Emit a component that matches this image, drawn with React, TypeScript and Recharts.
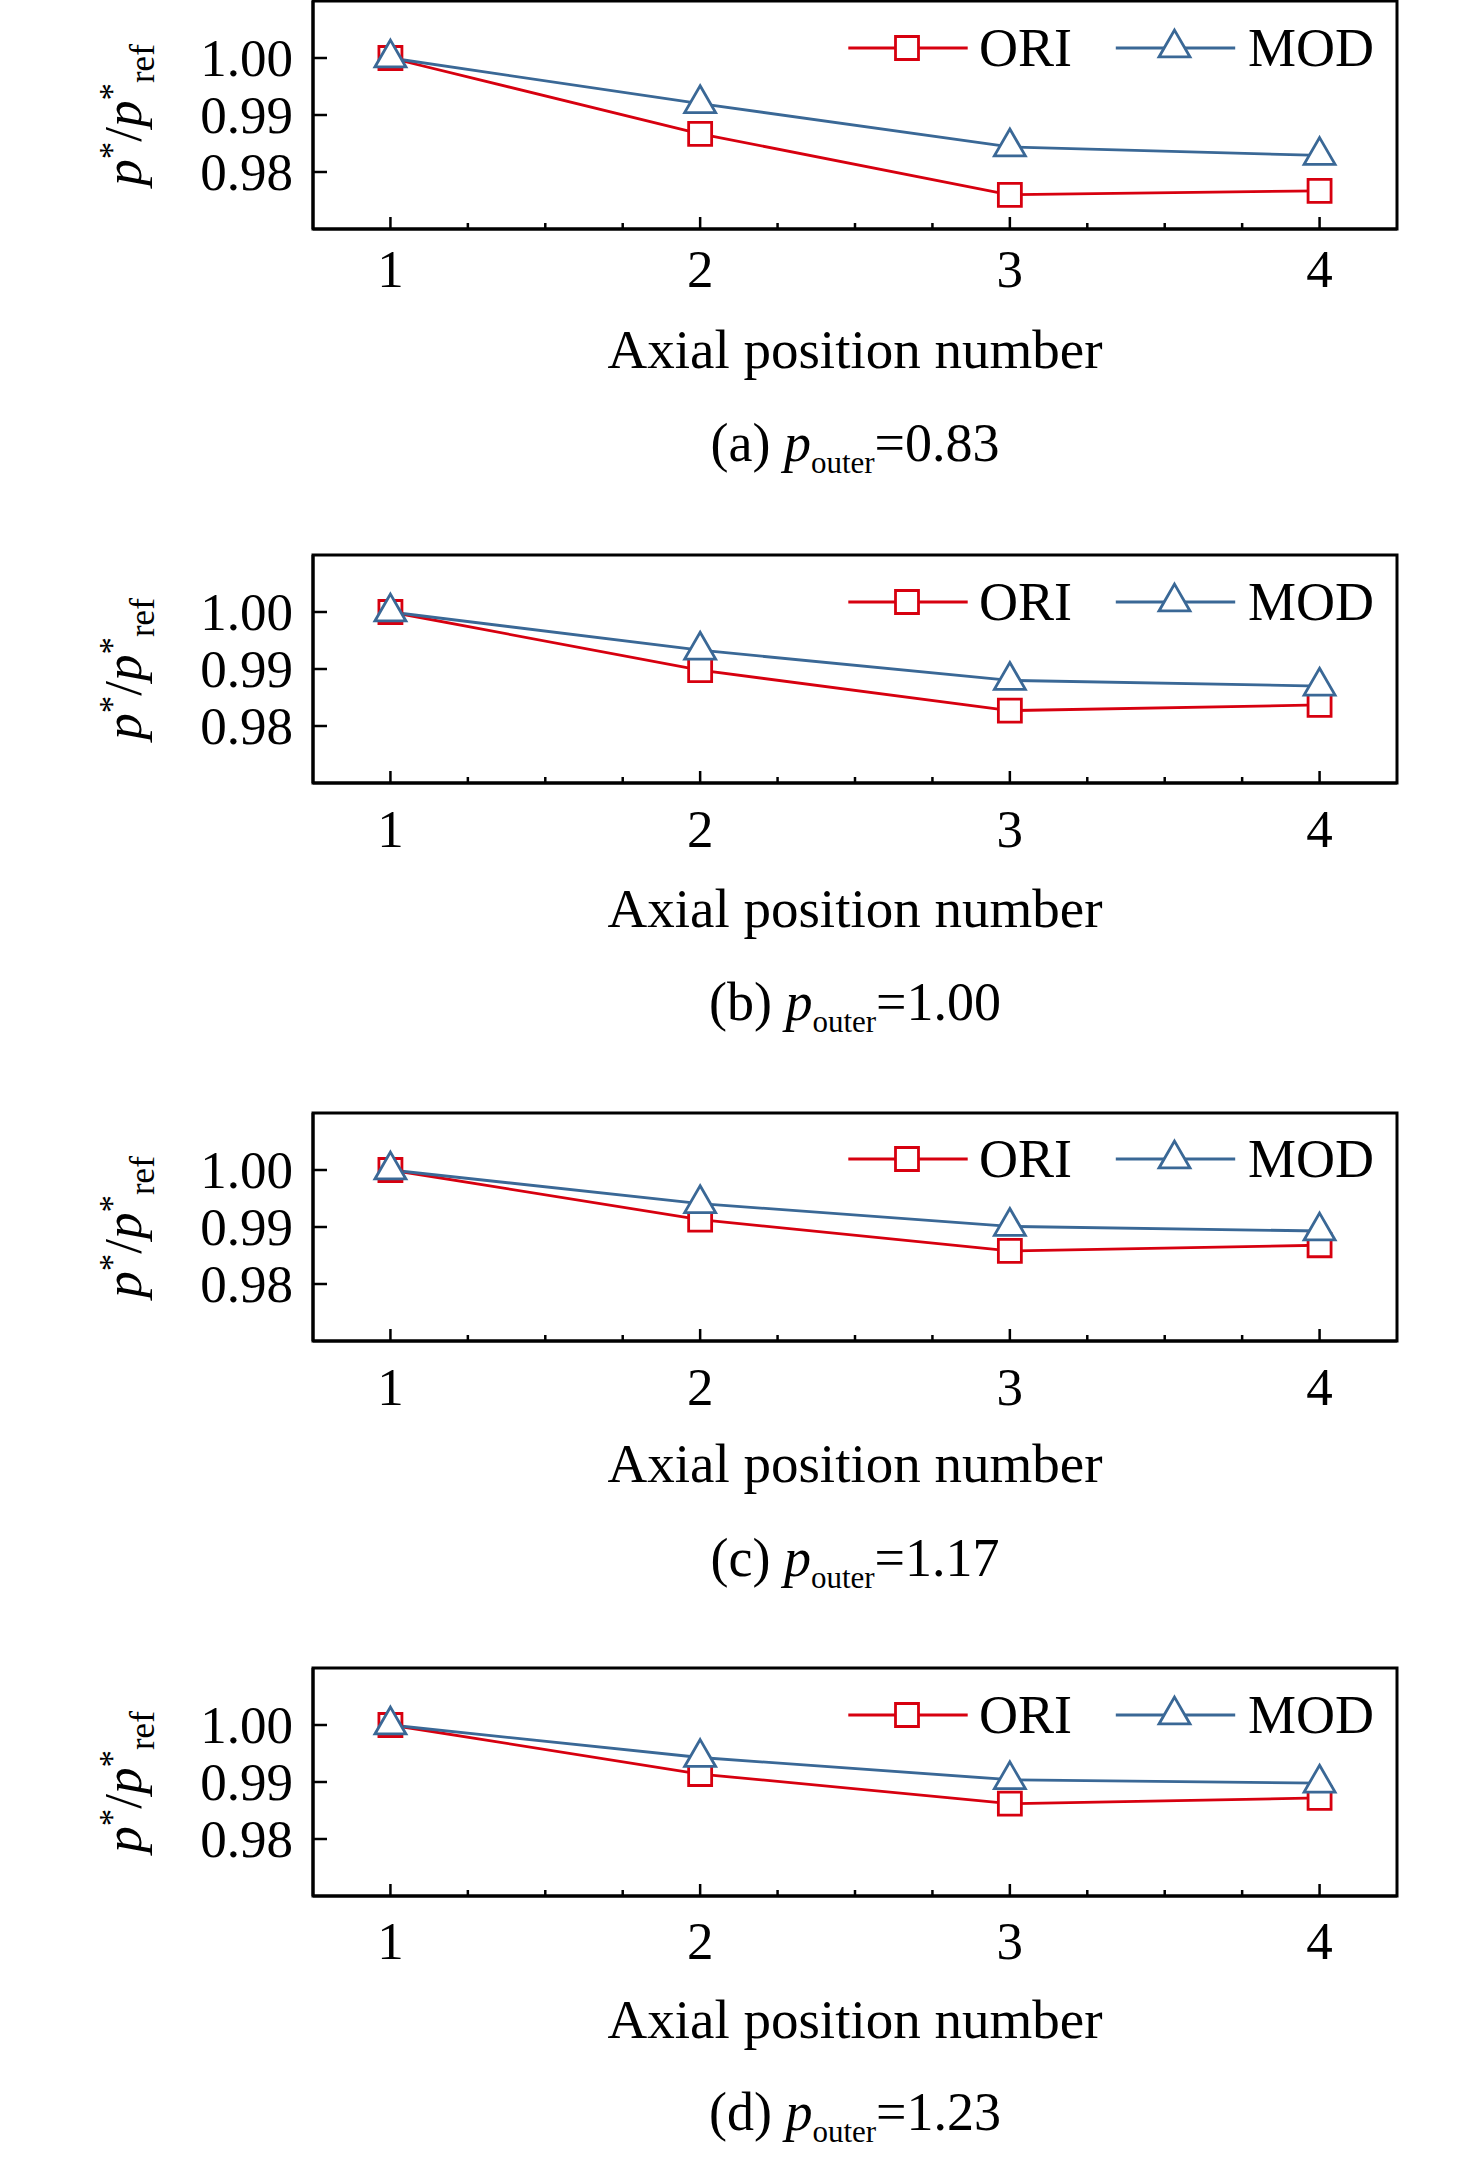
import React from 'react';
import { LineChart, Line, XAxis, YAxis, Legend, Symbols, ReferenceArea } from 'recharts';

// ---------- data ----------
const positions = [1, 2, 3, 4];
const xMajorTicks = [1, 2, 3, 4];
const xMinorTicks = [1.25, 1.5, 1.75, 2.25, 2.5, 2.75, 3.25, 3.5, 3.75];
const yTicks = [0.98, 0.99, 1.0];
const xDomain: [number, number] = [0.75, 4.25];
const yDomain: [number, number] = [0.97, 1.01];

const seriesNames = ['ORI', 'MOD'];

const oriA = [1.0, 0.9867, 0.976, 0.9767];
const modA = [1.0, 0.992, 0.9844, 0.9829];
const oriB = [1.0, 0.9898, 0.9827, 0.9837];
const modB = [1.0, 0.9933, 0.988, 0.987];
const oriC = [1.0, 0.9913, 0.9858, 0.9868];
const modC = [1.0, 0.9941, 0.9901, 0.9893];
const oriD = [1.0, 0.9914, 0.9862, 0.9872];
const modD = [1.0, 0.9943, 0.9904, 0.9898];

const panelLetters = ['(a)', '(b)', '(c)', '(d)'];
const outerValues = ['0.83', '1.00', '1.17', '1.23'];
const xTitle = 'Axial position number';

// ---------- styles / layout ----------
const FONT = "'Liberation Serif', 'Times New Roman', serif";
const RED = '#d7000f';
const BLUE = '#3a6896';
const W = 1476;
const H = 555;
const PLOT_H = 228;
const M_TOP = 4;
const Y_AXIS_W = 100;
const X_AXIS_H = 60;
const M_LEFT = 213;
const M_RIGHT = 79;
const M_BOTTOM = H - M_TOP - PLOT_H - X_AXIS_H;

const panelTops = [1, 555.3, 1112.7, 1668.3];
const tickOffsets = [58, 64, 64, 63];
const titleOffsets = [139, 143.5, 141, 141.6];
const captionOffsets = [232, 237, 234.7, 234];

const panels = [
  { ori: oriA, mod: modA },
  { ori: oriB, mod: modB },
  { ori: oriC, mod: modC },
  { ori: oriD, mod: modD },
];

const buildRows = (ori: number[], mod: number[]) =>
  positions.map((x, i) => ({ x, ori: ori[i], mod: mod[i] }));

const allXTicks = [...xMajorTicks, ...xMinorTicks].sort((a, b) => a - b);

const XTick = (props: any) => {
  const { x, y, payload, off } = props;
  const v = payload.value;
  const major = xMajorTicks.includes(v);
  return (
    <g>
      <line x1={x} y1={y} x2={x} y2={y - (major ? 12 : 6)} stroke="#000" strokeWidth={2.5} />
      {major && (
        <text x={x} y={y + off} textAnchor="middle" fontSize={53} fontFamily={FONT} fill="#000">
          {String(v)}
        </text>
      )}
    </g>
  );
};

const YTick = (props: any) => {
  const { x, y, payload } = props;
  return (
    <g>
      <line x1={x} y1={y} x2={x + 14} y2={y} stroke="#000" strokeWidth={2.5} />
      <text x={x - 20} y={y} dy="0.34em" textAnchor="end" fontSize={53} fontFamily={FONT} fill="#000">
        {Number(payload.value).toFixed(2)}
      </text>
    </g>
  );
};

const YLabel = (props: any) => {
  const vb = props.viewBox || {};
  const cx = vb.x + vb.width - 172;
  const cy = vb.y + vb.height / 2;
  return (
    <text
      x={cx}
      y={cy}
      transform={`rotate(-90 ${cx} ${cy})`}
      textAnchor="middle"
      fontFamily={FONT}
      fontSize={53}
      fill="#000"
    >
      <tspan fontStyle="italic">p</tspan>
      <tspan fontSize={35} dy={-17}>*</tspan>
      <tspan dy={17}>/</tspan>
      <tspan fontStyle="italic">p</tspan>
      <tspan fontSize={35} dy={-17}>*</tspan>
      <tspan fontSize={35} dy={30}>ref</tspan>
    </text>
  );
};

const XLabels = (props: any) => {
  const vb = props.viewBox || {};
  const idx = props.idx;
  const cx = vb.x + vb.width / 2;
  return (
    <g>
      <text x={cx} y={vb.y + titleOffsets[idx]} textAnchor="middle" fontFamily={FONT} fontSize={55} fill="#000">
        {xTitle}
      </text>
      <text x={cx} y={vb.y + captionOffsets[idx]} textAnchor="middle" fontFamily={FONT} fontSize={54} fill="#000">
        <tspan>{panelLetters[idx] + ' '}</tspan>
        <tspan fontStyle="italic">p</tspan>
        <tspan fontSize={31} dy={12}>outer</tspan>
        <tspan dy={-12}>{'=' + outerValues[idx]}</tspan>
      </text>
    </g>
  );
};

const SquareDot = (props: any) => {
  const { cx, cy, index } = props;
  if (cx == null || cy == null) return <g key={`sq-${index}`} />;
  return (
    <Symbols key={`sq-${index}`} cx={cx} cy={cy} type="square" size={529} fill="#fff" stroke={RED} strokeWidth={2.8} />
  );
};

const TriDot = (props: any) => {
  const { cx, cy, index } = props;
  if (cx == null || cy == null) return <g key={`tr-${index}`} />;
  return (
    <Symbols key={`tr-${index}`} cx={cx} cy={cy} type="triangle" size={416} fill="#fff" stroke={BLUE} strokeWidth={2.8} />
  );
};

const LegendContent = (props: any) => {
  const payload = [...(props.payload || [])].sort(
    (a: any, b: any) => seriesNames.indexOf(a.value) - seriesNames.indexOf(b.value)
  );
  return (
    <svg width={560} height={70} style={{ display: 'block', overflow: 'visible' }}>
      {payload.map((entry: any, i: number) => {
        const base = i * 267.5;
        const color = entry.color;
        const cy = 35;
        return (
          <g key={`lg-${i}`}>
            <line x1={base + 8.3} y1={cy} x2={base + 127.7} y2={cy} stroke={color} strokeWidth={2.8} />
            <Symbols
              cx={base + 67}
              cy={cy}
              type={i === 0 ? 'square' : 'triangle'}
              size={i === 0 ? 529 : 416}
              fill="#fff"
              stroke={color}
              strokeWidth={2.8}
            />
            <text x={base + (i === 0 ? 139 : 140.5)} y={cy} dy="0.34em" fontFamily={FONT} fontSize={54} fill="#000">
              {entry.value}
            </text>
          </g>
        );
      })}
    </svg>
  );
};

const Panel = ({ idx }: { idx: number }) => {
  const rows = buildRows(panels[idx].ori, panels[idx].mod);
  return (
    <div style={{ position: 'absolute', left: 0, top: panelTops[idx] - M_TOP, width: W, height: H }}>
      <LineChart
        width={W}
        height={H}
        data={rows}
        margin={{ top: M_TOP, right: M_RIGHT, left: M_LEFT, bottom: M_BOTTOM }}
      >
        <XAxis
          dataKey="x"
          type="number"
          domain={xDomain}
          ticks={allXTicks}
          interval={0}
          tickSize={0}
          tickMargin={0}
          tickLine={false}
          height={X_AXIS_H}
          axisLine={{ stroke: '#000', strokeWidth: 3 }}
          tick={(p: any) => <XTick {...p} off={tickOffsets[idx]} />}
          label={{ content: (p: any) => <XLabels {...p} idx={idx} /> }}
        />
        <YAxis
          type="number"
          domain={yDomain}
          ticks={yTicks}
          interval={0}
          width={Y_AXIS_W}
          tickSize={0}
          tickMargin={0}
          tickLine={false}
          axisLine={{ stroke: '#000', strokeWidth: 3 }}
          tick={(p: any) => <YTick {...p} />}
          label={{ content: (p: any) => <YLabel {...p} /> }}
        />
        <ReferenceArea
          x1={xDomain[0]}
          x2={xDomain[1]}
          y1={yDomain[0]}
          y2={yDomain[1]}
          fill="none"
          fillOpacity={0}
          stroke="#000"
          strokeWidth={3}
          ifOverflow="visible"
        />
        <Legend
          layout="horizontal"
          verticalAlign="middle"
          align="center"
          content={(p: any) => <LegendContent {...p} />}
          wrapperStyle={{ top: M_TOP + 46.5 - 35, left: 840, width: 560, height: 70 }}
        />
        <Line
          dataKey="ori"
          name={seriesNames[0]}
          type="linear"
          stroke={RED}
          strokeWidth={2.8}
          dot={(p: any) => <SquareDot {...p} />}
          activeDot={false}
          isAnimationActive={false}
        />
        <Line
          dataKey="mod"
          name={seriesNames[1]}
          type="linear"
          stroke={BLUE}
          strokeWidth={2.8}
          dot={(p: any) => <TriDot {...p} />}
          activeDot={false}
          isAnimationActive={false}
        />
      </LineChart>
    </div>
  );
};

export default function App() {
  return (
    <div style={{ position: 'absolute', left: 0, top: 0, width: W, height: 2160, background: '#fff' }}>
      {panels.map((_, i) => (
        <Panel key={i} idx={i} />
      ))}
    </div>
  );
}
